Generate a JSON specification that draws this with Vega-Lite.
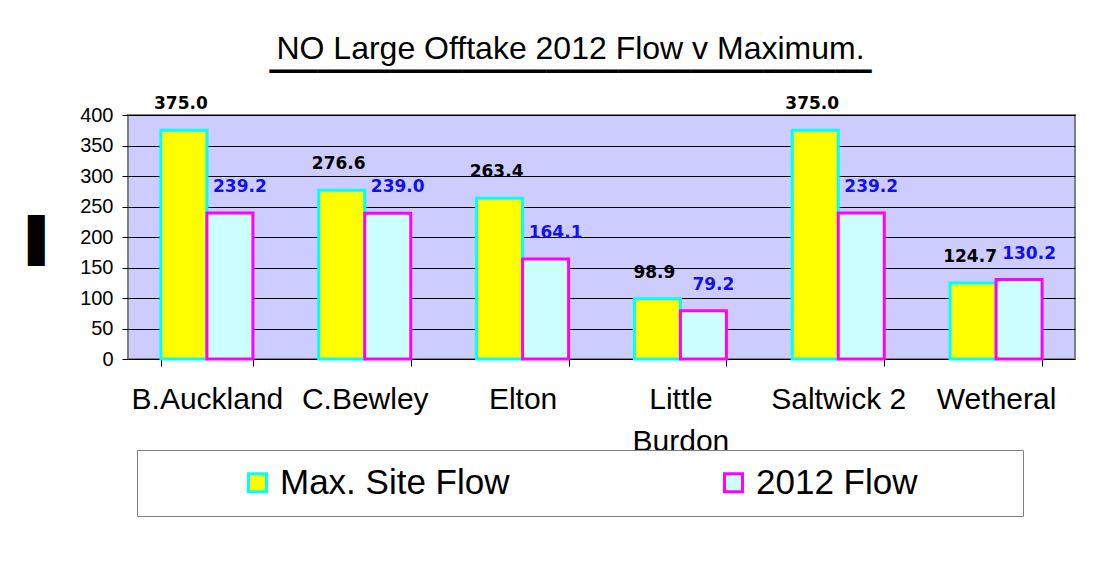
{
  "$schema": "https://vega.github.io/schema/vega-lite/v6.json",
  "width": 947,
  "height": 244,
  "autosize": {"type": "none"},
  "padding": {"left": 128, "top": 115, "right": 37, "bottom": 222},
  "background": "white",
  "title": {
    "text": "NO Large Offtake 2012 Flow  v Maximum.",
    "subtitle": "━━━━━━━━━━━━━━━━━━━━━━━━━━━━━━━━━━━━━━━━━━━━━━━━━━",
    "font": "Liberation Sans",
    "fontSize": 32,
    "fontWeight": "normal",
    "color": "black",
    "anchor": "middle",
    "dx": -31,
    "offset": 12,
    "subtitleFont": "DejaVu Sans",
    "subtitleFontSize": 20,
    "subtitleColor": "black",
    "subtitlePadding": -4
  },
  "data": {
    "values": [
      {"site": "B.Auckland", "series": "Max. Site Flow", "value": 375.0},
      {"site": "B.Auckland", "series": "2012 Flow", "value": 239.2},
      {"site": "C.Bewley", "series": "Max. Site Flow", "value": 276.6},
      {"site": "C.Bewley", "series": "2012 Flow", "value": 239.0},
      {"site": "Elton", "series": "Max. Site Flow", "value": 263.4},
      {"site": "Elton", "series": "2012 Flow", "value": 164.1},
      {"site": "Little Burdon", "series": "Max. Site Flow", "value": 98.9},
      {"site": "Little Burdon", "series": "2012 Flow", "value": 79.2},
      {"site": "Saltwick 2", "series": "Max. Site Flow", "value": 375.0},
      {"site": "Saltwick 2", "series": "2012 Flow", "value": 239.2},
      {"site": "Wetheral", "series": "Max. Site Flow", "value": 124.7},
      {"site": "Wetheral", "series": "2012 Flow", "value": 130.2}
    ]
  },
  "encoding": {
    "x": {
      "field": "site",
      "type": "nominal",
      "sort": null,
      "scale": {"paddingInner": 0.417, "paddingOuter": 0.2085},
      "axis": {
        "title": null,
        "labelAngle": 0,
        "labelFont": "Liberation Sans",
        "labelFontSize": 30,
        "labelColor": "black",
        "labelPadding": 18,
        "labelLineHeight": 42,
        "labelExpr": "datum.label == 'Little Burdon' ? ['Little', 'Burdon'] : datum.label",
        "tickBand": "extent",
        "tickSize": 7,
        "tickColor": "black",
        "domain": false
      }
    },
    "xOffset": {
      "field": "series",
      "type": "nominal",
      "sort": ["Max. Site Flow", "2012 Flow"],
      "scale": {"paddingInner": 0, "paddingOuter": 0}
    },
    "y": {
      "field": "value",
      "type": "quantitative",
      "scale": {"domain": [0, 400]},
      "axis": {
        "values": [0, 50, 100, 150, 200, 250, 300, 350, 400],
        "title": "▌",
        "titleFont": "DejaVu Sans",
        "titleFontSize": 43,
        "titleFontWeight": "normal",
        "titleColor": "black",
        "titleAngle": 0,
        "titleAlign": "center",
        "titleBaseline": "middle",
        "titleX": -84,
        "titleY": 126,
        "labelFont": "Liberation Sans",
        "labelFontSize": 20,
        "labelColor": "black",
        "labelPadding": 9,
        "tickSize": 6,
        "tickColor": "black",
        "domain": false,
        "grid": true,
        "gridColor": "black",
        "gridWidth": 1,
        "gridOpacity": 1
      }
    }
  },
  "layer": [
    {
      "mark": {"type": "bar", "strokeWidth": 3},
      "encoding": {
        "fill": {
          "field": "series",
          "type": "nominal",
          "sort": ["Max. Site Flow", "2012 Flow"],
          "scale": {"domain": ["Max. Site Flow", "2012 Flow"], "range": ["#FFFF00", "#CCFFFF"]},
          "legend": {"title": " ", "titleOrient": "right", "titlePadding": 91}
        },
        "stroke": {
          "field": "series",
          "type": "nominal",
          "sort": ["Max. Site Flow", "2012 Flow"],
          "scale": {"domain": ["Max. Site Flow", "2012 Flow"], "range": ["#00FFFF", "#FF00FF"]},
          "legend": {"title": " ", "titleOrient": "right", "titlePadding": 91}
        }
      }
    },
    {
      "transform": [{"filter": "datum.series == 'Max. Site Flow'"}],
      "mark": {
        "type": "text",
        "font": "DejaVu Sans",
        "fontWeight": "bold",
        "fontSize": 17,
        "baseline": "middle",
        "dy": -26,
        "dx": -3,
        "color": "black"
      },
      "encoding": {
        "text": {"field": "value", "type": "quantitative", "format": ".1f"}
      }
    },
    {
      "transform": [{"filter": "datum.series == '2012 Flow'"}],
      "mark": {
        "type": "text",
        "font": "DejaVu Sans",
        "fontWeight": "bold",
        "fontSize": 17,
        "baseline": "middle",
        "dy": -26,
        "dx": 10,
        "color": "#1010F0"
      },
      "encoding": {
        "text": {"field": "value", "type": "quantitative", "format": ".1f"}
      }
    }
  ],
  "config": {
    "view": {"fill": "#CCCCFF", "stroke": "#808080", "strokeWidth": 2},
    "legend": {
      "orient": "none",
      "legendX": 9,
      "legendY": 335,
      "direction": "horizontal",
      "strokeColor": "#808080",
      "fillColor": "white",
      "padding": 15,
      "symbolType": "square",
      "symbolSize": 324,
      "symbolStrokeWidth": 3,
      "symbolOpacity": 1,
      "labelFont": "Liberation Sans",
      "labelFontSize": 35,
      "labelColor": "black",
      "labelOffset": 5,
      "symbolOffset": 88,
      "columnPadding": 118,
      "labelLimit": 400
    }
  }
}
